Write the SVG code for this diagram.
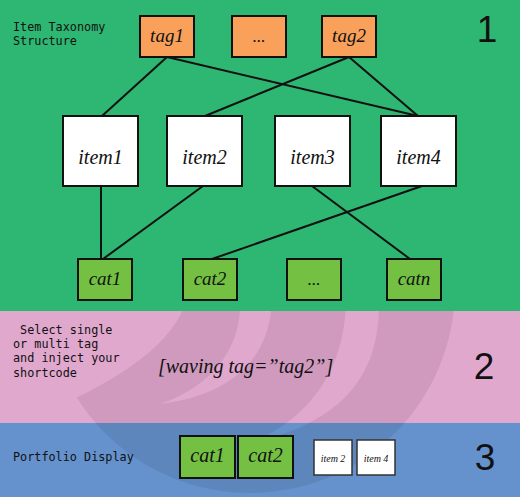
<svg xmlns="http://www.w3.org/2000/svg" width="520" height="497" viewBox="0 0 520 497">
  <style>
    .mono { font-family: "DejaVu Sans Mono", "Liberation Mono", monospace; font-size: 11.8px; fill: #111; }
    .lbl { font-family: "Liberation Serif", "DejaVu Serif", serif; font-style: italic; fill: #111; text-anchor: middle; }
    .num { font-family: "Liberation Sans", "DejaVu Sans", sans-serif; font-size: 37px; fill: #111; text-anchor: middle; }
    .tag { fill: #f9a05a; stroke: #111; stroke-width: 2; }
    .item { fill: #ffffff; stroke: #111; stroke-width: 2; }
    .cat { fill: #74c043; stroke: #111; stroke-width: 2; }
    .small { fill: #ffffff; stroke: #333; stroke-width: 1.5; }
    .conn line { stroke: #111; stroke-width: 2; }
  </style>
  <defs>
    <mask id="wm">
      <rect x="0" y="0" width="520" height="497" fill="#000"/>
      <circle cx="250" cy="288" r="205" fill="#fff"/>
      <path d="M 0,300 L 186,300 C 176,340 125,378 45,412 L 0,412 Z" fill="#000"/>
      <path d="M 240,300 L 272,300 C 270,360 230,395 160,404 C 215,385 242,345 240,300 Z" fill="#000"/>
      <path d="M 346,300 L 379,300 C 380,370 350,420 250,444 C 305,420 345,375 346,300 Z" fill="#000"/>
    </mask>
  </defs>

  <g id="bands">
    <rect x="0" y="311" width="520" height="112" fill="#e1a8ce"/>
    <rect x="0" y="423" width="520" height="74" fill="#6592cd"/>
  </g>
  <g id="watermark">
    <rect x="0" y="0" width="520" height="497" fill="#000" fill-opacity="0.08" mask="url(#wm)"/>
  </g>
  <g id="band-top">
    <rect x="0" y="0" width="520" height="311" fill="#2eb673"/>
  </g>

  <g id="titles">
    <text class="mono" x="13" y="31">Item Taxonomy</text>
    <text class="mono" x="13" y="45">Structure</text>
    <text class="num" x="487" y="42">1</text>
    <text class="mono" x="13" y="334" xml:space="preserve"> Select single</text>
    <text class="mono" x="13" y="348">or multi tag</text>
    <text class="mono" x="13" y="362">and inject your</text>
    <text class="mono" x="13" y="377">shortcode</text>
    <text class="lbl" x="158" y="373" font-size="20" style="text-anchor:start">[waving tag=”tag2”]</text>
    <text class="num" x="484" y="379">2</text>
    <text class="mono" x="13" y="461">Portfolio Display</text>
    <text class="num" x="485" y="470">3</text>
  </g>

  <g id="connectors" class="conn">
    <line x1="167" y1="57" x2="102" y2="116"/>
    <line x1="167" y1="57" x2="418" y2="116"/>
    <line x1="349" y1="57" x2="205" y2="116"/>
    <line x1="349" y1="57" x2="418" y2="116"/>
    <line x1="101" y1="186" x2="101" y2="259"/>
    <line x1="203" y1="186" x2="103" y2="259"/>
    <line x1="312" y1="186" x2="410" y2="259"/>
    <line x1="422" y1="186" x2="212" y2="259"/>
  </g>

  <g id="tag1"><rect class="tag" x="140" y="16" width="54" height="41"/><text class="lbl" x="167" y="42" font-size="19">tag1</text></g>
  <g id="tag-more"><rect class="tag" x="232" y="16" width="54" height="41"/><text class="lbl" x="259" y="42" font-size="17">...</text></g>
  <g id="tag2"><rect class="tag" x="322" y="16" width="54" height="41"/><text class="lbl" x="349" y="42" font-size="19">tag2</text></g>

  <g id="item1"><rect class="item" x="63" y="116" width="75" height="70"/><text class="lbl" x="100.5" y="164" font-size="20">item1</text></g>
  <g id="item2"><rect class="item" x="167" y="116" width="75" height="70"/><text class="lbl" x="204.5" y="164" font-size="20">item2</text></g>
  <g id="item3"><rect class="item" x="275" y="116" width="75" height="70"/><text class="lbl" x="312.5" y="164" font-size="20">item3</text></g>
  <g id="item4"><rect class="item" x="381" y="116" width="75" height="70"/><text class="lbl" x="418.5" y="164" font-size="20">item4</text></g>

  <g id="cat1"><rect class="cat" x="78" y="259" width="54" height="41"/><text class="lbl" x="105" y="285" font-size="19">cat1</text></g>
  <g id="cat2"><rect class="cat" x="183" y="259" width="54" height="41"/><text class="lbl" x="210" y="285" font-size="19">cat2</text></g>
  <g id="cat-more"><rect class="cat" x="287" y="259" width="54" height="41"/><text class="lbl" x="314" y="285" font-size="17">...</text></g>
  <g id="catn"><rect class="cat" x="387" y="259" width="54" height="41"/><text class="lbl" x="414" y="285" font-size="19">catn</text></g>

  <g id="display-cat1"><rect class="cat" x="180" y="436" width="55" height="42"/><text class="lbl" x="207.5" y="462" font-size="20">cat1</text></g>
  <g id="display-cat2"><rect class="cat" x="238" y="436" width="55" height="42"/><text class="lbl" x="265.5" y="462" font-size="20">cat2</text></g>
  <g id="display-item2"><rect class="small" x="314" y="440" width="38" height="35"/><text class="lbl" x="333" y="462" font-size="10">item 2</text></g>
  <g id="display-item4"><rect class="small" x="357" y="440" width="38" height="35"/><text class="lbl" x="376" y="462" font-size="10">item 4</text></g>
</svg>
